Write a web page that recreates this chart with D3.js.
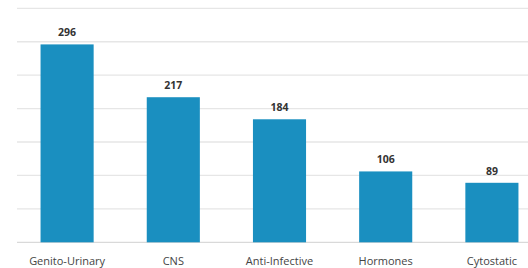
<!DOCTYPE html>
<head>
<style>
  body { margin: 0; background: #fff; }
  svg text { font-family: "Open Sans", sans-serif; }
</style>
</head>
<body>
<svg width="528" height="268"></svg>
<script src="https://d3js.org/d3.v7.min.js"></script>
<script>

var categories = ["Genito-Urinary", "CNS", "Anti-Infective", "Hormones", "Cytostatic"];
var values = [296, 217, 184, 106, 89];
var gridTicks = [0, 50, 100, 150, 200, 250, 300, 350];

var svg = d3.select("svg");

// plot area runs past the right edge (the picture is cropped there)
var x = d3.scaleBand().domain(categories).range([14, 545]).paddingInner(0.5).paddingOuter(0.25);
var y = d3.scaleLinear().domain([0, 350]).range([242.3, 8.3]);

// gridlines
svg.append("g")
    .attr("class", "grid")
  .selectAll("line")
  .data(gridTicks)
  .enter().append("line")
    .attr("x1", 17)
    .attr("x2", 528)
    .attr("y1", (d) => y(d))
    .attr("y2", (d) => y(d))
    .attr("stroke", (d) => d === 0 ? "#d9d9d9" : "#e6e6e6")
    .attr("stroke-width", 1.3);

// bars
svg.append("g")
    .attr("class", "bars")
  .selectAll("rect")
  .data(values)
  .enter().append("rect")
    .attr("x", (d, i) => x(categories[i]))
    .attr("width", x.bandwidth())
    .attr("y", (d) => y(d))
    .attr("height", (d) => y(0) - y(d))
    .attr("fill", "#1a8fc0");

// value labels
svg.append("g")
    .attr("class", "values")
  .selectAll("text")
  .data(values)
  .enter().append("text")
    .attr("x", (d, i) => x(categories[i]) + x.bandwidth() / 2)
    .attr("y", (d) => y(d) - 8)
    .attr("text-anchor", "middle")
    .attr("font-size", "10.5px")
    .attr("font-weight", "bold")
    .attr("fill", "#333")
    .text((d) => d);

// category axis labels
svg.append("g")
    .attr("class", "x-labels")
  .selectAll("text")
  .data(categories)
  .enter().append("text")
    .attr("x", (d) => x(d) + x.bandwidth() / 2)
    .attr("y", 264.5)
    .attr("text-anchor", "middle")
    .attr("font-size", "11px")
    .attr("fill", "#444")
    .text((d) => d);

</script>
</body>
